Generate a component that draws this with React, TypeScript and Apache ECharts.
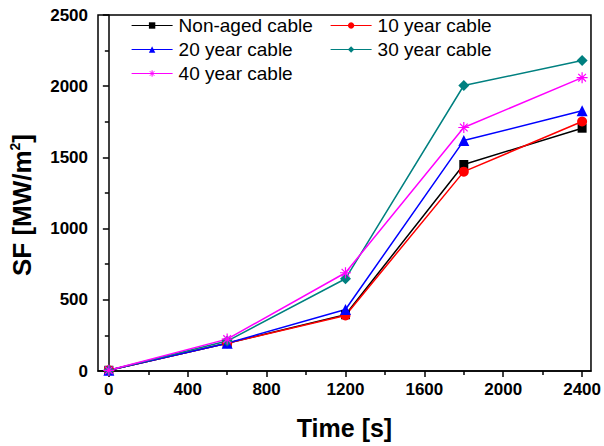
import React, { useEffect, useRef } from "react";
import * as echarts from "echarts";

const times = [0, 600, 1200, 1800, 2400];
const nonAged = [5, 195, 395, 1450, 1705];
const year10 = [5, 195, 390, 1400, 1752];
const year20 = [5, 195, 432, 1618, 1828];
const year30 = [5, 210, 648, 2005, 2180];
const year40 = [5, 224, 690, 1710, 2060];
const xMajorTicks = [0, 400, 800, 1200, 1600, 2000, 2400];
const xMinorTicks = [200, 600, 1000, 1400, 1800, 2200];

const seriesNames = ["Non-aged cable", "10 year cable", "20 year cable", "30 year cable", "40 year cable"];
const seriesValues = [nonAged, year10, year20, year30, year40];
const seriesColors = ["#000000", "#ff0000", "#0000ff", "#008080", "#ff00ff"];
const asterisk = "path://M5,0L5,10M0,5L10,5M1.5,1.5L8.5,8.5M1.5,8.5L8.5,1.5";
const seriesSymbols = ["rect", "circle", "triangle", "diamond", asterisk];
const seriesSizes = [9, 10, 11, 11, 11];

export default function App() {
  const ref = useRef<HTMLDivElement>(null);
  useEffect(() => {
    const chart = echarts.init(ref.current!, undefined, { renderer: "svg" });
    const font = "'Liberation Sans', Arial, sans-serif";
    const series = seriesNames.map((name, i) => ({
      name,
      type: "line",
      data: times.map((t, j) => [t, seriesValues[i][j]]),
      symbol: seriesSymbols[i],
      symbolSize: seriesSizes[i],
      color: seriesColors[i],
      lineStyle: { color: seriesColors[i], width: 1.5 },
      itemStyle:
        i === 4
          ? { color: seriesColors[i], borderColor: seriesColors[i], borderWidth: 1.2 }
          : { color: seriesColors[i] },
      xAxisIndex: 0,
      yAxisIndex: 0,
    }));
    const legendCommon = {
      orient: "vertical",
      top: 16,
      padding: 0,
      itemWidth: 41,
      itemHeight: 8,
      itemGap: 5,
      lineStyle: { width: 1.2 },
      textStyle: { fontSize: 19, color: "#000", fontFamily: font, padding: [0, 0, 0, 1] },
    };
    const noSep = (v: number) => String(v);
    chart.setOption({
      animation: false,
      backgroundColor: "#ffffff",
      textStyle: { fontFamily: font },
      grid: {
        left: 97,
        top: 15,
        right: 12,
        bottom: 75,
        show: true,
        borderColor: "#000",
        borderWidth: 1.5,
      },
      legend: [
        {
          ...legendCommon,
          data: [
            "Non-aged cable",
            "20 year cable",
            {
              name: "40 year cable",
              itemStyle: { color: "#ff00ff", borderColor: "#ff00ff", borderWidth: 1 },
            },
          ],
          left: 131,
        },
        { ...legendCommon, data: ["10 year cable", "30 year cable"], left: 330 },
      ],
      xAxis: [
        {
          type: "value",
          min: -55,
          max: 2445,
          position: "bottom",
          name: "Time [s]",
          nameLocation: "middle",
          nameGap: 44,
          nameTextStyle: { fontSize: 25, fontWeight: "bold", color: "#000", fontFamily: font },
          axisLine: { show: true, lineStyle: { color: "#000", width: 1.5 } },
          axisTick: { show: true, customValues: xMajorTicks, length: 6, lineStyle: { color: "#000", width: 1.5 } },
          axisLabel: {
            customValues: xMajorTicks,
            formatter: noSep,
            fontSize: 17,
            fontWeight: "bold",
            color: "#000",
            margin: 10,
            fontFamily: font,
          },
          splitLine: { show: false },
        },
        {
          type: "value",
          min: -55,
          max: 2445,
          position: "bottom",
          axisLine: { show: false },
          axisTick: { show: true, customValues: xMinorTicks, length: 4, lineStyle: { color: "#000", width: 1.5 } },
          axisLabel: { show: false },
          splitLine: { show: false },
        },
      ],
      yAxis: {
        type: "value",
        min: 0,
        max: 2500,
        interval: 500,
        name: "SF [MW/m{sup|2}]",
        nameLocation: "middle",
        nameGap: 63,
        nameRotate: 90,
        nameTextStyle: {
          fontSize: 26,
          fontWeight: "bold",
          color: "#000",
          fontFamily: font,
          padding: [0, 24, 0, 0],
          rich: {
            sup: { fontSize: 14, fontWeight: "bold", color: "#000", fontFamily: font, padding: [0, 0, 13, 0] },
          },
        },
        axisLine: { show: true, lineStyle: { color: "#000", width: 1.5 } },
        axisTick: { show: true, length: 6, lineStyle: { color: "#000", width: 1.5 } },
        minorTick: { show: true, splitNumber: 2, length: 4, lineStyle: { color: "#000", width: 1.5 } },
        axisLabel: { formatter: noSep, fontSize: 17, fontWeight: "bold", color: "#000", margin: 10, fontFamily: font },
        splitLine: { show: false },
      },
      series,
    });
    return () => chart.dispose();
  }, []);
  return <div ref={ref} style={{ width: 604, height: 446, position: "absolute", left: 0, top: 0 }} />;
}
